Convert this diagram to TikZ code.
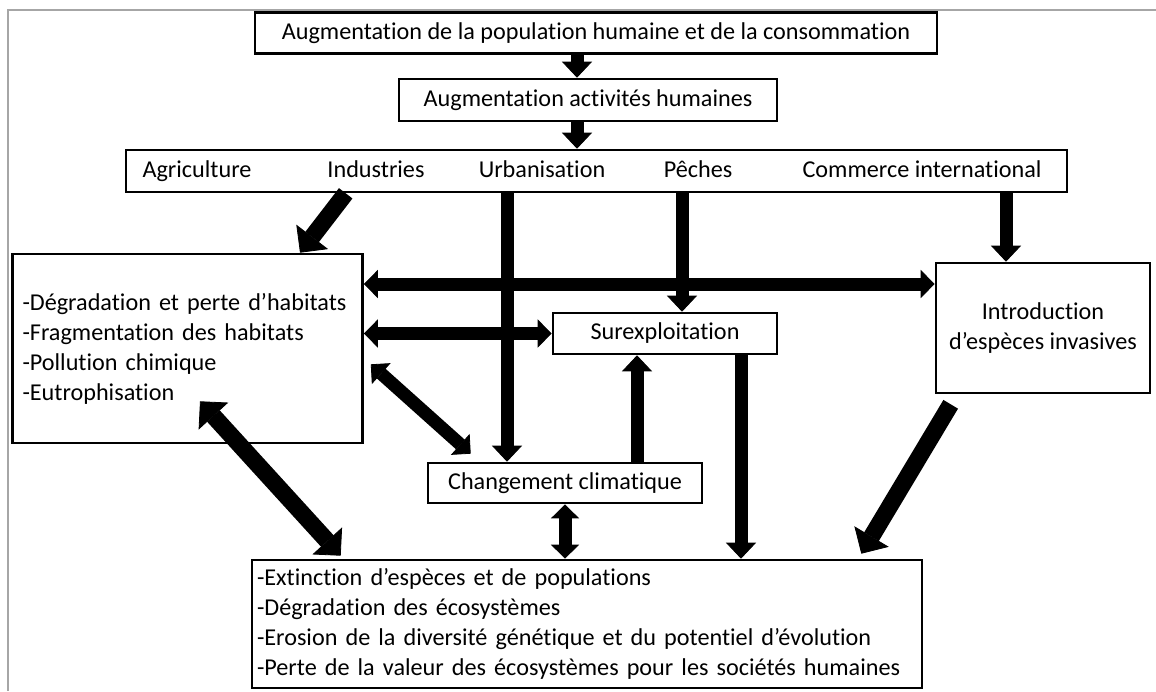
\documentclass[tikz,border=0pt]{standalone}
\usepackage{fontspec}
\setmainfont{Carlito}[Ligatures=NoCommon]
\usetikzlibrary{arrows.meta, positioning}
\tikzstyle{bBox} = [rectangle, draw=black, line width=1.3pt, inner sep=0pt, text centered, font=\fontsize{12.1}{15}\selectfont]
\tikzstyle{bList} = [rectangle, draw=black, line width=1.3pt, inner ysep=0pt, inner xsep=5pt, align=left, font=\fontsize{12.1}{15}\selectfont]
\tikzstyle{bLabel} = [inner sep=0pt, text height=9pt, text depth=3pt, font=\fontsize{12.1}{15}\selectfont]
\tikzstyle{bArrow} = [line width=6.5pt, -{Triangle[length=8pt, width=15pt, line width=0.4pt]}]
\tikzstyle{bDouble} = [line width=6.5pt, {Triangle[length=7pt, width=14pt, line width=0.4pt]}-{Triangle[length=7pt, width=14pt, line width=0.4pt]}]
\tikzstyle{bArrowBig} = [line width=8.5pt, -{Triangle[length=10pt, width=20pt, line width=0.4pt]}]
\tikzstyle{bDoubleBig} = [line width=8.5pt, {Triangle[length=10pt, width=20pt, line width=0.4pt]}-{Triangle[length=10pt, width=20pt, line width=0.4pt]}]

\begin{document}
\begin{tikzpicture}[x=0.5pt, y=-0.5pt, node distance=33.5pt]
    \useasboundingbox (0,0) rectangle (1156,691);
    \draw [gray!70, line width=0.6pt] (8,691) -- (8,10) -- (1156,10);

    \node (popu) [bBox, minimum width=341pt, minimum height=20.5pt] at (596,33) {Augmentation de la population humaine et de la consommation};
    \node (activ) [bBox, below of=popu, xshift=-4pt, minimum width=189pt, minimum height=21pt] {Augmentation activités humaines};
    \node (secteurs) [bBox, below of=activ, xshift=4.25pt, yshift=-2pt, minimum width=470.5pt, minimum height=21pt] {};
    \node (agri) [bLabel] at (197,171) {Agriculture};
    \node (indus) [bLabel] at (376,171) {Industries};
    \node (urba) [bLabel] at (542,171) {Urbanisation};
    \node (peche) [bLabel] at (698,171) {Pêches};
    \node (commerce) [bLabel] at (922,171) {Commerce international};
    \node (habitat) [bList, text width=165pt, minimum height=94.5pt] at (187.5,348.5) {-Dégradation et perte d’habitats\\-Fragmentation des habitats\\-Pollution chimique\\-Eutrophisation};
    \node (surexp) [bBox, minimum width=112pt, minimum height=20.5pt] at (665,333.5) {Surexploitation};
    \node (intro) [bBox, align=center, minimum width=107pt, minimum height=65pt] at (1043,328) {Introduction\\d’espèces invasives};
    \node (climat) [bBox, minimum width=137pt, minimum height=20pt] at (565,483) {Changement climatique};
    \node (impacts) [bList, text width=330pt, inner xsep=2.5pt, minimum height=64pt] at (587,624) {-Extinction d’espèces et de populations\\-Dégradation des écosystèmes\\-Erosion de la diversité génétique et du potentiel d’évolution\\-Perte de la valeur des écosystèmes pour les sociétés humaines};

    % arrow columns
    \coordinate (xMain) at (577,0);
    \coordinate (xUrba) at (507,0);
    \coordinate (xPeche) at (682,0);
    \coordinate (xComm) at (1006,0);
    \coordinate (xClim) at (637,0);
    \coordinate (xSur) at (741,0);
    \coordinate (yInv) at (0,284);

    \draw [bArrow] (xMain |- popu.south) -- (xMain |- activ.north);
    \draw [bArrow] (xMain |- activ.south) -- (xMain |- secteurs.north);
    \draw [bArrowBig] ([shift={(221,0)}]secteurs.south west) -- ([shift={(112.5,0)}]habitat.north);
    \draw [bArrow] (xUrba |- secteurs.south) -- (xUrba |- climat.north);
    \draw [bArrow] (xPeche |- secteurs.south) -- (xPeche |- surexp.north);
    \draw [bArrow] (xComm |- secteurs.south) -- (xComm |- intro.north);
    \draw [bDouble] (habitat.east |- yInv) -- (intro.west |- yInv);
    \draw [bDouble] (habitat.east |- surexp.west) -- (surexp.west);
    \draw [bDouble] ([shift={(7,-80)}]habitat.south east) -- ([shift={(44,-8)}]climat.north west);
    \draw [bArrow] (xClim |- climat.north) -- (xClim |- surexp.south);
    \draw [bDouble] (climat.south) -- (climat.south |- impacts.north);
    \draw [bArrow] (xSur |- surexp.south) -- (xSur |- impacts.north);
    \draw [bDoubleBig] ([shift={(12.5,-43)}]habitat.south) -- ([shift={(90,-3)}]impacts.north west);
    \draw [bArrowBig] ([shift={(16,10)}]intro.south west) -- ([shift={(-62,-5)}]impacts.north east);
\end{tikzpicture}
\end{document}
